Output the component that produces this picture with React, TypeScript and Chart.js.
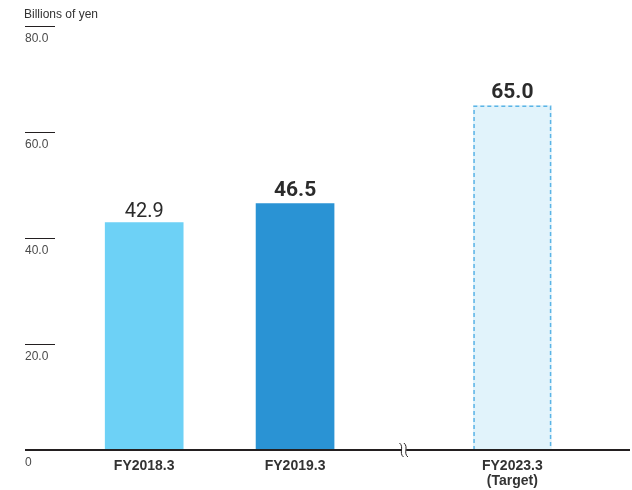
import React, { useEffect, useRef } from 'react';
import { Chart, registerables } from 'chart.js';

Chart.register(...registerables);

const categories = ['FY2018.3', 'FY2019.3', 'FY2023.3'];
const subLabels = ['', '', '(Target)'];
const values = [42.9, 46.5, 65.0];
const yTicks = [0, 20, 40, 60, 80];
const unitLabel = 'Billions of yen';

const BREAK_EXTRA = 0.44; // extra category spacing after the axis break
const slotOf = (i: number) => i + (i >= 2 ? BREAK_EXTRA : 0);

const INK = '#231f20';
const TEXT = '#333333';

export default function App() {
  const ref = useRef<HTMLCanvasElement | null>(null);

  useEffect(() => {
    document.body.style.margin = '0';
    const canvas = ref.current;
    if (!canvas) return;

    const overlay = {
      id: 'overlay',
      afterDatasetsDraw(chart: any) {
        const ctx = chart.ctx as CanvasRenderingContext2D;
        const xs = chart.scales.x;
        const ys = chart.scales.y;
        const area = chart.chartArea;
        const base = ys.getPixelForValue(0);
        const meta = chart.getDatasetMeta(0);

        ctx.save();
        // dashed outline for target bar
        const tb = meta.data[2];
        if (tb) {
          const p = tb.getProps(['x', 'y', 'width', 'base'], true);
          ctx.strokeStyle = '#5bb4e6';
          ctx.lineWidth = 1.5;
          ctx.setLineDash([4, 3]);
          ctx.beginPath();
          const l = p.x - p.width / 2 + 0.75;
          const r = p.x + p.width / 2 - 0.75;
          ctx.moveTo(l, p.base);
          ctx.lineTo(l, p.y + 0.75);
          ctx.lineTo(r, p.y + 0.75);
          ctx.lineTo(r, p.base);
          ctx.stroke();
          ctx.setLineDash([]);
        }

        // unit label
        ctx.fillStyle = TEXT;
        ctx.font = '12px "Liberation Sans", Arial, sans-serif';
        ctx.textAlign = 'left';
        ctx.textBaseline = 'middle';
        ctx.fillText(unitLabel, area.left - 1, 15);

        // y ticks
        yTicks.forEach((v) => {
          const y = ys.getPixelForValue(v);
          if (v !== 0) {
            ctx.strokeStyle = INK;
            ctx.lineWidth = 1;
            ctx.beginPath();
            ctx.moveTo(area.left, Math.round(y) + 0.5);
            ctx.lineTo(area.left + 30, Math.round(y) + 0.5);
            ctx.stroke();
          }
          ctx.fillStyle = '#4a4a4a';
          ctx.font = '12px "Liberation Sans", Arial, sans-serif';
          ctx.textBaseline = 'middle';
          ctx.textAlign = 'left';
          ctx.fillText(v === 0 ? '0' : v.toFixed(1), area.left, y + 13);
        });

        // baseline
        ctx.strokeStyle = INK;
        ctx.lineWidth = 2;
        ctx.beginPath();
        ctx.moveTo(area.left, base);
        ctx.lineTo(area.right, base);
        ctx.stroke();

        // break mark
        const bx = (xs.getPixelForValue(slotOf(1)) + xs.getPixelForValue(slotOf(2))) / 2;
        ctx.fillStyle = '#ffffff';
        ctx.fillRect(bx - 2.5, base - 3, 5, 6);
        ctx.strokeStyle = INK;
        ctx.lineWidth = 1;
        [-2.2, 2.2].forEach((dx) => {
          ctx.beginPath();
          ctx.moveTo(bx + dx - 2, base - 7);
          ctx.bezierCurveTo(bx + dx + 3, base - 3, bx + dx - 3, base + 3, bx + dx + 2, base + 7);
          ctx.stroke();
        });

        // value labels
        meta.data.forEach((el: any, i: number) => {
          const p = el.getProps(['x', 'y'], true);
          ctx.fillStyle = '#2b2b2b';
          ctx.font = i === 0 ? '400 20px Roboto, sans-serif' : '700 21px Roboto, sans-serif';
          ctx.textAlign = 'center';
          ctx.textBaseline = 'alphabetic';
          ctx.fillText(values[i].toFixed(1), p.x, p.y - (i === 0 ? 6 : 8));
        });

        // category labels
        categories.forEach((c, i) => {
          const x = xs.getPixelForValue(slotOf(i));
          ctx.fillStyle = TEXT;
          ctx.font = 'bold 14px "Liberation Sans", Arial, sans-serif';
          ctx.textAlign = 'center';
          ctx.textBaseline = 'middle';
          ctx.fillText(c, x, base + 16);
          if (subLabels[i]) ctx.fillText(subLabels[i], x, base + 31);
        });
        ctx.restore();
      },
    };

    const chart = new Chart(canvas, {
      type: 'bar',
      data: {
        datasets: [
          {
            data: values.map((v, i) => ({ x: slotOf(i), y: v })),
            backgroundColor: ['#6dd1f6', '#2a93d4', '#e1f3fb'],
            borderWidth: 0,
            barThickness: 78,
          },
        ],
      },
      options: {
        animation: false,
        responsive: false,
        maintainAspectRatio: false,
        layout: { padding: { left: 25, right: 2, top: 26, bottom: 40 } },
        plugins: { legend: { display: false }, tooltip: { enabled: false } },
        scales: {
          x: { type: 'linear', min: -0.79, max: 3.22, offset: false, display: false },
          y: { min: 0, max: 80, display: false },
        },
      },
      plugins: [overlay],
    });
    return () => chart.destroy();
  }, []);

  return (
    <div style={{ width: 632, height: 490 }}>
      <canvas ref={ref} width={632} height={490} style={{ display: 'block' }} />
    </div>
  );
}
